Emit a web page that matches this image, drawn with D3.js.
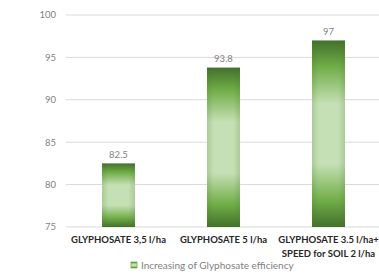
<!DOCTYPE html>
<html>
<head>
<meta charset="utf-8">
<script src="https://cdn.jsdelivr.net/npm/d3@7"></script>
<style>
  body { margin: 0; background: #fff; }
  text { font-family: Lato, "Open Sans", sans-serif; }
</style>
</head>
<body>
<div id="chart"></div>
<script>
const categories = [["GLYPHOSATE 3,5 l/ha"], ["GLYPHOSATE 5 l/ha"], ["GLYPHOSATE 3.5 l/ha+", "SPEED for SOIL 2 l/ha"]];
const values = [82.5, 93.8, 97];
const yTicks = [75, 80, 85, 90, 95, 100];
const seriesName = "Increasing of Glyphosate efficiency";

const width = 379, height = 279;
const margin = {top: 15, right: 0, bottom: 52, left: 66};

const svg = d3.select("#chart").append("svg")
    .attr("width", width)
    .attr("height", height);

const defs = svg.append("defs");
const grad = defs.append("linearGradient")
    .attr("id", "barGrad")
    .attr("x1", 0).attr("y1", 0).attr("x2", 0).attr("y2", 1);
[[0, "#43702b"], [0.14, "#70ad47"], [0.34, "#c5e0b4"], [0.66, "#c5e0b4"], [0.86, "#70ad47"], [1, "#43702b"]]
    .forEach(s => grad.append("stop").attr("offset", s[0]).attr("stop-color", s[1]));
const side = defs.append("linearGradient")
    .attr("id", "sideGrad")
    .attr("x1", 0).attr("y1", 0).attr("x2", 1).attr("y2", 0);
[[0, 0.2], [0.2, 0], [0.8, 0], [1, 0.2]]
    .forEach(s => side.append("stop").attr("offset", s[0]).attr("stop-color", "#43702b").attr("stop-opacity", s[1]));

const x = d3.scaleBand()
    .domain(d3.range(values.length))
    .range([margin.left, 381])
    .paddingInner(0.686)
    .paddingOuter(0.343);

const y = d3.scaleLinear()
    .domain([75, 100])
    .range([227, margin.top]);

// gridlines
svg.append("g")
    .selectAll("line")
    .data(yTicks)
    .enter().append("line")
    .attr("x1", margin.left)
    .attr("x2", width)
    .attr("y1", d => y(d))
    .attr("y2", d => y(d))
    .style("stroke", "#d9d9d9")
    .style("stroke-width", 1);

// y axis labels
svg.append("g")
    .selectAll("text")
    .data(yTicks)
    .enter().append("text")
    .attr("x", 56)
    .attr("y", d => y(d))
    .attr("dy", "0.35em")
    .attr("text-anchor", "end")
    .style("font-size", "9.5px")
    .style("fill", "#7f7f7f")
    .text(d => d);

// bars
const bars = svg.append("g")
    .selectAll("g")
    .data(values)
    .enter().append("g");

bars.append("rect")
    .attr("x", (d, i) => x(i))
    .attr("y", d => y(d))
    .attr("width", x.bandwidth())
    .attr("height", d => y(75) - y(d))
    .style("fill", "url(#barGrad)");

bars.append("rect")
    .attr("x", (d, i) => x(i))
    .attr("y", d => y(d))
    .attr("width", x.bandwidth())
    .attr("height", d => y(75) - y(d))
    .style("fill", "url(#sideGrad)");

bars.append("text")
    .attr("x", (d, i) => x(i) + x.bandwidth() / 2)
    .attr("y", d => y(d) - 9)
    .attr("dy", "0.35em")
    .attr("text-anchor", "middle")
    .style("font-size", "9.5px")
    .style("fill", "#7f7f7f")
    .text(d => d);

// category labels
const cats = svg.append("g")
    .selectAll("text")
    .data(categories)
    .enter().append("text")
    .attr("x", (d, i) => x(i) + x.bandwidth() / 2)
    .attr("y", 240)
    .attr("text-anchor", "middle")
    .style("font-size", "9.5px")
    .style("font-weight", "bold")
    .style("fill", "#262626");

cats.selectAll("tspan")
    .data(d => d)
    .enter().append("tspan")
    .attr("x", function () { return d3.select(this.parentNode).attr("x"); })
    .attr("dy", (d, j) => j === 0 ? "0.35em" : "14px")
    .text(d => d);

// legend
const legend = svg.append("g").attr("transform", "translate(131,262)");
legend.append("rect")
    .attr("width", 6).attr("height", 6)
    .style("fill", "url(#barGrad)")
    .style("stroke", "#70ad47")
    .style("stroke-width", 0.8);
legend.append("text")
    .attr("x", 10)
    .attr("y", 3)
    .attr("dy", "0.35em")
    .style("font-size", "10px")
    .style("fill", "#7f7f7f")
    .text(seriesName);
</script>
</body>
</html>
